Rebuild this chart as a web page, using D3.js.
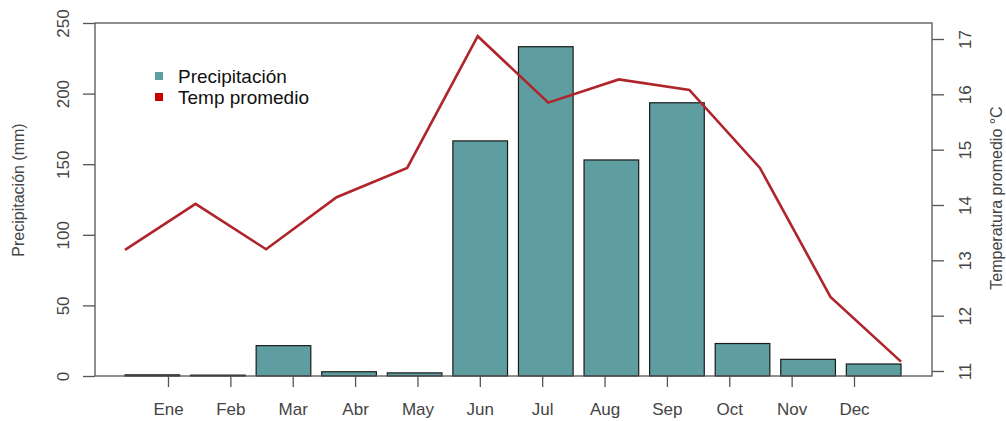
<!DOCTYPE html>
<html>
<head>
<meta charset="utf-8">
<script src="https://cdn.jsdelivr.net/npm/d3@7"></script>
<style>
body { margin: 0; background: #fff; }
svg { display: block; font-family: "Liberation Sans", Arial, sans-serif; }
</style>
</head>
<body>
<svg id="chart" width="1006" height="421"></svg>
<script>
const months = ["Ene","Feb","Mar","Abr","May","Jun","Jul","Aug","Sep","Oct","Nov","Dec"];
const precipitation = [0.8, 0.6, 21.5, 3.0, 2.2, 166.5, 233.2, 153, 193.5, 23, 11.8, 8.5];
const temperature = [13.19, 14.02, 13.2, 14.14, 14.67, 17.05, 15.85, 16.27, 16.08, 14.67, 12.34, 11.17];
const precipTicks = [0, 50, 100, 150, 200, 250];
const tempTicks = [11, 12, 13, 14, 15, 16, 17];
const legendLabels = ["Precipitación", "Temp promedio"];

const svg = d3.select("#chart");
const box = {left: 95, right: 932, top: 23, bottom: 376};
const textColor = "#444";
const axisColor = "#555";

const yP = d3.scaleLinear().domain([0, 250]).range([376, 23]);
const yT = d3.scaleLinear().domain([11, 17]).range([371, 39]);
const xBar = d3.scaleBand().domain(months).range([125, 901]).paddingInner(1/6).paddingOuter(0);
const xLine = d3.scalePoint().domain(months).range([125, 901]);
const xTick = d3.scalePoint().domain(months).range([168, 854]);

// bars
svg.append("g").selectAll("rect").data(months).join("rect")
  .attr("x", d => xBar(d))
  .attr("y", (d, i) => yP(precipitation[i]))
  .attr("width", xBar.bandwidth())
  .attr("height", (d, i) => yP(0) - yP(precipitation[i]))
  .attr("fill", "#5F9EA0")
  .attr("stroke", "#1a1a1a")
  .attr("stroke-width", 1.2);

// line
const line = d3.line().x((d, i) => xLine(months[i])).y(d => yT(d));
svg.append("path").datum(temperature)
  .attr("d", line)
  .attr("fill", "none")
  .attr("stroke", "#B0242B")
  .attr("stroke-width", 2.6)
  .attr("stroke-linejoin", "miter");

// box
svg.append("rect")
  .attr("x", box.left).attr("y", box.top)
  .attr("width", box.right - box.left).attr("height", box.bottom - box.top)
  .attr("fill", "none").attr("stroke", axisColor).attr("stroke-width", 1.3);

// left axis
const gl = svg.append("g").attr("transform", `translate(${box.left},0)`)
  .call(d3.axisLeft(yP).tickValues(precipTicks).tickSize(12).tickSizeOuter(0).tickFormat(d3.format("d")));
gl.select(".domain").remove();
gl.selectAll(".tick line").attr("stroke", axisColor).attr("stroke-width", 1.3);
gl.selectAll(".tick text")
  .attr("fill", textColor).attr("font-size", 17)
  .attr("transform", "rotate(-90)")
  .attr("x", 0).attr("y", -26).attr("dy", 0)
  .attr("text-anchor", "middle");

// right axis
const gr = svg.append("g").attr("transform", `translate(${box.right},0)`)
  .call(d3.axisRight(yT).tickValues(tempTicks).tickSize(12).tickSizeOuter(0).tickFormat(d3.format("d")));
gr.select(".domain").remove();
gr.selectAll(".tick line").attr("stroke", axisColor).attr("stroke-width", 1.3);
gr.selectAll(".tick text")
  .attr("fill", textColor).attr("font-size", 17)
  .attr("transform", "rotate(-90)")
  .attr("x", 0).attr("y", 39).attr("dy", 0)
  .attr("text-anchor", "middle");

// bottom axis
const gb = svg.append("g").attr("transform", `translate(0,${box.bottom})`)
  .call(d3.axisBottom(xTick).tickSize(11).tickSizeOuter(0));
gb.select(".domain").remove();
gb.selectAll(".tick line").attr("stroke", axisColor).attr("stroke-width", 1.3);
gb.selectAll(".tick text")
  .attr("fill", textColor).attr("font-size", 17)
  .attr("y", 39).attr("dy", 0);

// axis titles
svg.append("text")
  .attr("transform", "translate(24,190) rotate(-90)")
  .attr("text-anchor", "middle").attr("font-size", 16).attr("fill", textColor)
  .text("Precipitación (mm)");
svg.append("text")
  .attr("transform", "translate(1002,198) rotate(-90)")
  .attr("text-anchor", "middle").attr("font-size", 16).attr("fill", textColor)
  .text("Temperatura promedio °C");

// legend
const legColors = ["#5F9EA0", "#CC0000"];
const leg = svg.append("g");
leg.selectAll("rect").data(legendLabels).join("rect")
  .attr("x", 155).attr("y", (d, i) => 72 + i * 21)
  .attr("width", 8).attr("height", 8)
  .attr("fill", (d, i) => legColors[i]);
leg.selectAll("text").data(legendLabels).join("text")
  .attr("x", 178).attr("y", (d, i) => 83 + i * 21)
  .attr("font-size", 19).attr("fill", "#111")
  .text(d => d);
</script>
</body>
</html>
